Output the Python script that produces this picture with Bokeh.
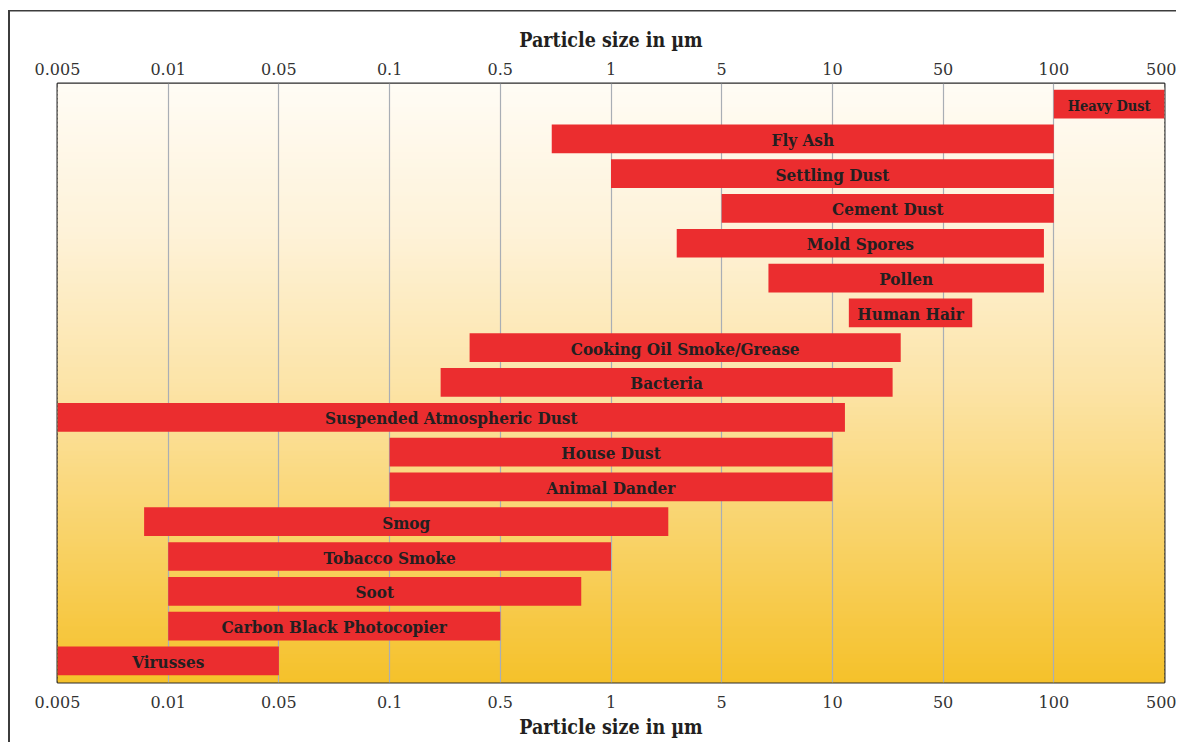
import math
from bokeh.plotting import figure
from bokeh.models import ColumnDataSource, Range1d, FixedTicker, LinearAxis, InlineStyleSheet
from bokeh.core.properties import value
from bokeh.embed import file_html
from bokeh.resources import INLINE

# ---- data -------------------------------------------------------------
tick_values = [0.005, 0.01, 0.05, 0.1, 0.5, 1, 5, 10, 50, 100, 500]
tick_labels = ["0.005", "0.01", "0.05", "0.1", "0.5", "1", "5", "10", "50", "100", "500"]

particles = [
    "Heavy Dust", "Fly Ash", "Settling Dust", "Cement Dust", "Mold Spores",
    "Pollen", "Human Hair", "Cooking Oil Smoke/Grease", "Bacteria",
    "Suspended Atmospheric Dust", "House Dust", "Animal Dander", "Smog",
    "Tobacco Smoke", "Soot", "Carbon Black Photocopier", "Virusses",
]
size_min = [100, 0.69, 1, 5, 2.6, 6.7, 12.7, 0.32, 0.21, 0.005, 0.1, 0.1, 0.0086, 0.01, 0.01, 0.01, 0.005]
size_max = [500, 100, 100, 100, 94, 94, 60, 27, 24, 12, 10, 10, 2.3, 1, 0.83, 0.5, 0.05]

axis_title = "Particle size in µm"

# ---- scale: equally spaced ticks, log interpolation between ticks ------
def to_pos(v):
    n = len(tick_values)
    for i in range(n - 1):
        a, b = tick_values[i], tick_values[i + 1]
        if v <= b or i == n - 2:
            return i + math.log(v / a) / math.log(b / a)

n = len(particles)
ys = [n - 1 - i for i in range(n)]
lefts = [to_pos(v) for v in size_min]
rights = [to_pos(v) for v in size_max]
mids = [(l + r) / 2 for l, r in zip(lefts, rights)]
fsizes = ["14.5px" if (r - l) < 1.03 else "17px" for l, r in zip(lefts, rights)]

src = ColumnDataSource(dict(y=ys, left=lefts, right=rights, mid=mids, name=particles, fs=fsizes))

y0, y1 = -0.62, n - 1 + 0.59
p = figure(width=1176, height=742, output_backend="svg", toolbar_location=None,
           x_range=Range1d(0, len(tick_values) - 1), y_range=Range1d(y0, y1),
           y_axis_location=None, x_axis_location=None)
p.min_border_left = 57
p.min_border_right = 12
p.min_border_top = 83
p.min_border_bottom = 60
p.border_fill_color = None
p.outline_line_color = "#2a2a2a"
p.outline_line_width = 2

p.stylesheets = [InlineStyleSheet(css=(
    ":host { background: linear-gradient(#3c3c3c,#3c3c3c) 8px 10px/100% 1.5px no-repeat,"
    " linear-gradient(#3c3c3c,#3c3c3c) 8px 10px/2px 100% no-repeat; }"))]

# ---- background gradient (style) ---------------------------------------
stops = [(0.0, (255, 252, 245)), (0.25, (254, 242, 216)), (0.5, (252, 228, 168)),
         (0.75, (249, 211, 106)), (1.0, (245, 193, 42))]

def grad(t):
    for (ta, ca), (tb, cb) in zip(stops[:-1], stops[1:]):
        if t <= tb:
            f = (t - ta) / (tb - ta)
            return "#%02x%02x%02x" % tuple(int(round(a + (b - a) * f)) for a, b in zip(ca, cb))
    return "#%02x%02x%02x" % stops[-1][1]

N = 150
H = y1 - y0
g_top = [y1 - H * j / N for j in range(N)]
g_bot = [y1 - H * (j + 1.6) / N for j in range(N)]
g_col = [grad((j + 0.5) / N) for j in range(N)]
gr = p.quad(left=0, right=len(tick_values) - 1, top=g_top, bottom=g_bot,
            fill_color=g_col, line_color=None)
gr.level = "image"

# ---- bars and labels ---------------------------------------------------
p.hbar(y="y", left="left", right="right", height=0.825, source=src,
       fill_color="#EB2D2F", line_color=None)
p.text(x="mid", y="y", text="name", source=src, text_align="center",
       text_baseline="middle", y_offset=1,
       text_font=value("DejaVu Serif Condensed"), text_font_style="bold",
       text_font_size="fs", text_color="#231F20")

# ---- axes --------------------------------------------------------------
top_axis = LinearAxis()
bottom_axis = LinearAxis()
p.add_layout(top_axis, "above")
p.add_layout(bottom_axis, "below")
ticks = list(range(len(tick_values)))
overrides = {i: lbl for i, lbl in zip(ticks, tick_labels)}
for ax, standoff, lstand in ((top_axis, 9, 8), (bottom_axis, 13, 5)):
    ax.ticker = FixedTicker(ticks=ticks)
    ax.major_label_overrides = overrides
    ax.axis_label = axis_title
    ax.axis_label_text_font = "DejaVu Serif Condensed"
    ax.axis_label_text_font_style = "bold"
    ax.axis_label_text_font_size = "19.5px"
    ax.axis_label_text_color = "#231F20"
    ax.axis_label_standoff = lstand
    ax.major_label_text_font = "DejaVu Serif"
    ax.major_label_text_font_size = "16px"
    ax.major_label_text_color = "#333333"
    ax.major_label_standoff = standoff
    ax.major_tick_in = 0
    ax.major_tick_out = 0
    ax.minor_tick_in = 0
    ax.minor_tick_out = 0
    ax.major_tick_line_color = None
    ax.minor_tick_line_color = None
    ax.axis_line_color = None

p.xgrid.ticker = FixedTicker(ticks=ticks[1:-1])
p.xgrid.grid_line_color = "#A9AEB5"
p.xgrid.grid_line_width = 1.2
p.ygrid.visible = False

open("out.html", "w").write(file_html(p, INLINE))
